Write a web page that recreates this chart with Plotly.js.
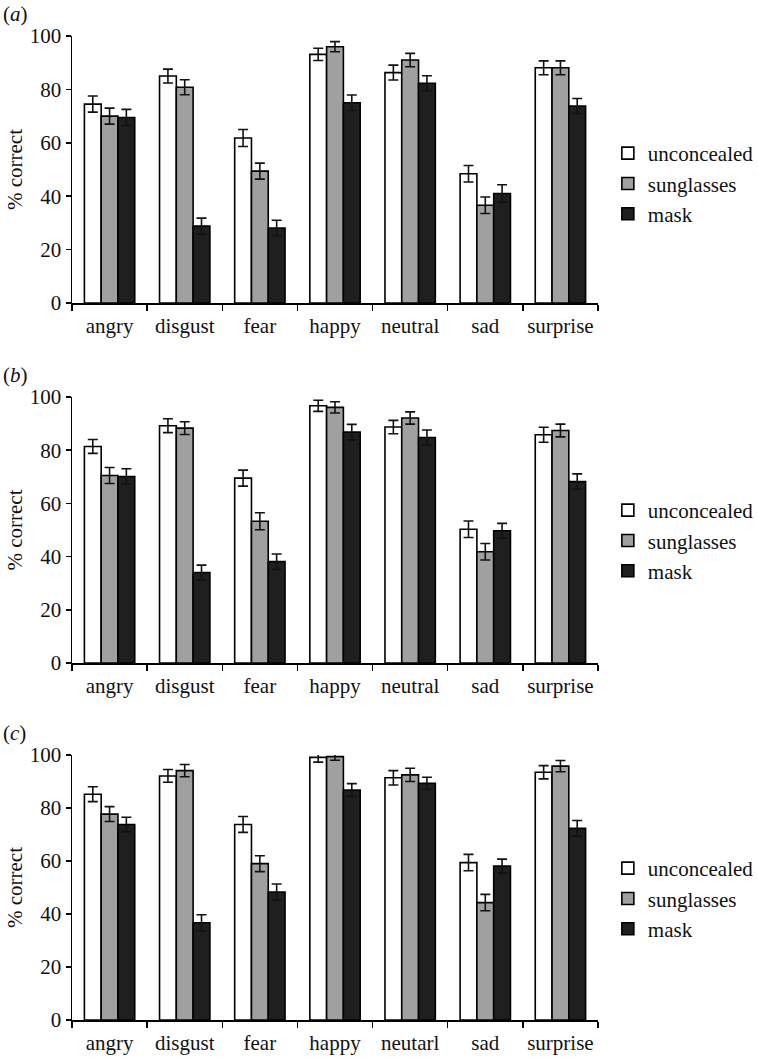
<!DOCTYPE html>
<html>
<head>
<meta charset="utf-8">
<script src="https://cdn.plot.ly/plotly-3.0.1.min.js"></script>
<style>html,body{margin:0;padding:0;background:#fff;}#chart{width:759px;height:1058px;}</style>
</head>
<body>
<div id="chart"></div>
<script>
const emotionsAB = ['angry', 'disgust', 'fear', 'happy', 'neutral', 'sad', 'surprise'];
const emotionsC = ['angry', 'disgust', 'fear', 'happy', 'neutarl', 'sad', 'surprise'];
const seriesNames = ['unconcealed', 'sunglasses', 'mask'];
const panelLabels = ['a', 'b', 'c'];
const yTicks = [0, 20, 40, 60, 80, 100];

// panel (a)
const aUnconcealed = [74.5, 85.0, 61.8, 93.1, 86.3, 48.4, 88.1];
const aSunglasses  = [70.0, 80.8, 49.4, 96.0, 91.0, 36.6, 88.1];
const aMask        = [69.5, 28.8, 28.1, 75.0, 82.3, 41.0, 73.8];
const aUnconcealedErr = [3.0, 2.6, 3.2, 2.3, 2.8, 3.1, 2.6];
const aSunglassesErr  = [3.0, 2.8, 3.0, 1.9, 2.5, 3.1, 2.6];
const aMaskErr        = [3.0, 3.0, 2.9, 2.9, 2.8, 3.3, 2.8];

// panel (b)
const bUnconcealed = [81.4, 89.2, 69.5, 96.7, 88.7, 50.3, 85.8];
const bSunglasses  = [70.5, 88.3, 53.3, 96.1, 92.1, 41.8, 87.4];
const bMask        = [70.1, 34.0, 38.1, 86.8, 84.8, 49.7, 68.2];
const bUnconcealedErr = [2.6, 2.6, 3.0, 2.1, 2.5, 3.1, 2.8];
const bSunglassesErr  = [3.0, 2.4, 3.2, 2.1, 2.3, 3.1, 2.4];
const bMaskErr        = [2.9, 2.8, 2.9, 2.9, 2.8, 2.8, 2.9];

// panel (c)
const cUnconcealed = [85.2, 92.1, 73.8, 99.1, 91.4, 59.4, 93.5];
const cSunglasses  = [77.7, 94.1, 59.0, 99.4, 92.5, 44.3, 95.8];
const cMask        = [73.8, 36.7, 48.3, 86.8, 89.3, 58.1, 72.3];
const cUnconcealedErr = [2.8, 2.4, 3.0, 1.8, 2.7, 3.1, 2.5];
const cSunglassesErr  = [2.8, 2.3, 3.0, 1.4, 2.5, 3.1, 2.1];
const cMaskErr        = [2.7, 3.0, 3.0, 2.4, 2.3, 2.6, 3.0];

const FONT = '"Liberation Serif", "Times New Roman", Times, serif';
const FS = 21;
const fills = ['#ffffff', '#a0a0a0', '#1f1f1f'];

const panels = [
  {cats: emotionsAB, vals: [aUnconcealed, aSunglasses, aMask], errs: [aUnconcealedErr, aSunglassesErr, aMaskErr]},
  {cats: emotionsAB, vals: [bUnconcealed, bSunglasses, bMask], errs: [bUnconcealedErr, bSunglassesErr, bMaskErr]},
  {cats: emotionsC,  vals: [cUnconcealed, cSunglasses, cMask], errs: [cUnconcealedErr, cSunglassesErr, cMaskErr]}
];

const W = 759, H = 1058;
const plotLeft = 72, plotRight = 606;
const yDomainsPx = [[36, 303], [397, 663], [755, 1020]];
const legendTopPx = [133, 490, 848];

const traces = [];
panels.forEach((p, pi) => {
  const sfx = pi === 0 ? '' : String(pi + 1);
  p.vals.forEach((v, si) => {
    traces.push({
      type: 'bar',
      name: seriesNames[si],
      x: p.cats,
      y: v,
      xaxis: 'x' + sfx,
      yaxis: 'y' + sfx,
      legend: 'legend' + sfx,
      cliponaxis: false,
      marker: {color: fills[si], line: {color: '#000', width: 1.6}},
      error_y: {type: 'data', array: p.errs[si], visible: true, color: '#111', thickness: 1.6, width: 5},
      hoverinfo: 'skip'
    });
  });
});

const layout = {
  width: W, height: H,
  margin: {l: plotLeft, r: W - plotRight, t: 0, b: 0},
  paper_bgcolor: '#fff', plot_bgcolor: '#fff',
  barmode: 'group', bargap: 0.33, bargroupgap: 0,
  font: {family: FONT, size: FS, color: '#111'},
  showlegend: true,
  annotations: []
};

panels.forEach((p, pi) => {
  const sfx = pi === 0 ? '' : String(pi + 1);
  const dom = [1 - yDomainsPx[pi][1] / H, 1 - yDomainsPx[pi][0] / H];
  layout['xaxis' + sfx] = {
    type: 'category', anchor: 'y' + sfx, domain: [0, 1],
    range: [-0.5, 6.5], tickson: 'boundaries', ticks: 'outside', ticklen: 6, tickwidth: 1.5, tickcolor: '#000',
    tickangle: 0, ticklabelstandoff: 3,
    showline: true, linecolor: '#000', linewidth: 1.5, showgrid: false, zeroline: false,
    tickfont: {family: FONT, size: FS, color: '#111'}, fixedrange: true
  };
  layout['yaxis' + sfx] = {
    anchor: 'x' + sfx, domain: dom, range: [0, 100], tickvals: yTicks,
    ticks: 'outside', ticklen: 5, tickwidth: 1.5, tickcolor: '#000',
    showline: true, linecolor: '#000', linewidth: 1.5, showgrid: false, zeroline: false,
    tickfont: {family: FONT, size: FS, color: '#111'},
    title: {text: '% correct', font: {family: FONT, size: FS, color: '#111'}, standoff: 1},
    fixedrange: true
  };
  layout['legend' + sfx] = {
    x: (616 - plotLeft) / (plotRight - plotLeft), xanchor: 'left', xref: 'paper',
    y: 1 - legendTopPx[pi] / H, yanchor: 'top', yref: 'paper',
    bgcolor: 'rgba(0,0,0,0)', borderwidth: 0,
    font: {family: FONT, size: FS, color: '#111'},
    traceorder: 'normal', itemclick: false, itemdoubleclick: false
  };
  layout.annotations.push({
    xref: 'paper', yref: 'paper', x: (0 - plotLeft) / (plotRight - plotLeft), xanchor: 'left',
    y: 1 - (yDomainsPx[pi][0] - 22) / H, yanchor: 'middle', showarrow: false,
    text: '(<i>' + panelLabels[pi] + '</i>)', font: {family: FONT, size: FS, color: '#111'}
  });
});

Plotly.newPlot('chart', traces, layout, {displayModeBar: false, staticPlot: true});
</script>
</body>
</html>
